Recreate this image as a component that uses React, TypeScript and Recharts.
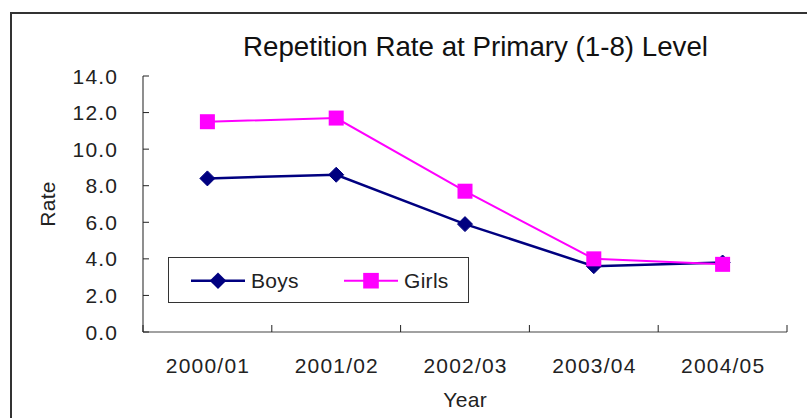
import React from 'react';
import { LineChart, Line, XAxis, YAxis, Legend, Label, Customized } from 'recharts';

const years = ['2000/01', '2001/02', '2002/03', '2003/04', '2004/05'];
const boys = [8.4, 8.6, 5.9, 3.6, 3.8];
const girls = [11.5, 11.7, 7.7, 4.0, 3.7];
const yTicks = [0, 2, 4, 6, 8, 10, 12, 14];
const chartTitle = 'Repetition Rate at Primary (1-8) Level';
const xTitle = 'Year';
const yTitle = 'Rate';

const data = years.map((y, i) => ({ year: y, Boys: boys[i], Girls: girls[i] }));

const FONT = '"Liberation Sans", Arial, sans-serif';
const FS = 21;
const NUM_LS = 1.2;
const WORD_LS = 0.3;
const NAVY = '#000080';
const MAGENTA = '#FF00FF';
const TEXT = '#222';
const AXIS = '#444';
const TICK_GAP = 26;

const diamondPath = (cx: number, cy: number, r: number) =>
  `M${cx},${cy - r}L${cx + r},${cy}L${cx},${cy + r}L${cx - r},${cy}Z`;

const DiamondDot = (props: any) => {
  const { cx, cy, index } = props;
  if (cx == null || cy == null) return <g key={`bd-${index}`} />;
  return <path key={`bd-${index}`} d={diamondPath(cx, cy, 7.5)} fill={NAVY} stroke={NAVY} strokeWidth={1} />;
};

const SquareDot = (props: any) => {
  const { cx, cy, index } = props;
  if (cx == null || cy == null) return <g key={`gd-${index}`} />;
  return <rect key={`gd-${index}`} x={cx - 7.5} y={cy - 7.5} width={15} height={15} fill={MAGENTA} />;
};

const YTick = (props: any) => {
  const { x, y, payload } = props;
  const axisX = x + TICK_GAP;
  return (
    <g>
      <line x1={axisX} x2={axisX + 6} y1={y} y2={y} stroke="#222" strokeWidth={1} />
      <text
        x={x + NUM_LS}
        y={y}
        dy="0.36em"
        textAnchor="end"
        fontFamily={FONT}
        fontSize={FS}
        letterSpacing={NUM_LS}
        fill={TEXT}
      >
        {Number(payload.value).toFixed(1)}
      </text>
    </g>
  );
};

const XTick = (props: any) => {
  const { x, y, payload, index, visibleTicksCount } = props;
  const axisY = y - TICK_GAP;
  const half = typeof payload.offset === 'number' && payload.offset > 0 ? payload.offset : 64.4;
  const count = visibleTicksCount || years.length;
  const marks = [x - half];
  if (index === count - 1) marks.push(x + half);
  return (
    <g>
      {marks.map((mx, i) => (
        <line key={i} x1={mx} x2={mx} y1={axisY} y2={axisY - 7} stroke="#222" strokeWidth={1} />
      ))}
      <text
        x={x + NUM_LS / 2}
        y={y}
        dy="0.72em"
        textAnchor="middle"
        fontFamily={FONT}
        fontSize={FS}
        letterSpacing={NUM_LS}
        fill={TEXT}
      >
        {payload.value}
      </text>
    </g>
  );
};

const LegendContent = (props: any) => {
  const payload = (props.payload || []) as any[];
  return (
    <div
      style={{
        width: 301,
        height: 46,
        border: '1px solid #333',
        boxSizing: 'border-box',
        background: '#fff',
      }}
    >
      <svg width={299} height={44} style={{ display: 'block' }}>
        {payload.map((entry, i) => {
          const ox = i * 153;
          const isBoys = entry.dataKey === 'Boys' || entry.value === 'Boys';
          const color = isBoys ? NAVY : MAGENTA;
          return (
            <g key={i}>
              <line x1={22 + ox} x2={76 + ox} y1={22.7} y2={22.7} stroke={color} strokeWidth={isBoys ? 2.5 : 2} />
              {isBoys ? (
                <path d={diamondPath(49 + ox, 22.7, 8.3)} fill={NAVY} />
              ) : (
                <rect x={202 - 7.8} y={22.7 - 7.8} width={15.6} height={15.6} fill={MAGENTA} />
              )}
              <text
                x={isBoys ? 82 : 235}
                y={30}
                fontFamily={FONT}
                fontSize={FS}
                letterSpacing={WORD_LS}
                fill={TEXT}
              >
                {entry.value}
              </text>
            </g>
          );
        })}
      </svg>
    </div>
  );
};

const Title = () => (
  <text
    x={243}
    y={56}
    textLength={465}
    lengthAdjust="spacingAndGlyphs"
    fontFamily='"Liberation Sans", Arial, sans-serif'
    fontSize={27.5}
    fill="#111"
  >
    {chartTitle}
  </text>
);

export default function App() {
  return (
    <div
      style={{
        position: 'absolute',
        left: 0,
        top: 0,
        width: 807,
        height: 418,
        overflow: 'hidden',
        background: '#fff',
      }}
    >
      <div
        style={{
          position: 'absolute',
          left: 10,
          top: 12,
          width: 820,
          height: 430,
          borderTop: '2px solid #333',
          borderLeft: '2px solid #333',
        }}
      />
      <div style={{ position: 'absolute', left: 0, top: 0 }}>
        <LineChart width={807} height={418} data={data} margin={{ top: 76, right: 20, bottom: 0, left: 0 }}>
          <XAxis
            dataKey="year"
            scale="band"
            height={86}
            axisLine={{ stroke: AXIS, strokeWidth: 1.2 }}
            tickLine={false}
            tickSize={0}
            tickMargin={TICK_GAP}
            interval={0}
            tick={<XTick />}
          >
            <Label
              content={(p: any) => {
                const vb = p.viewBox || { x: 143, y: 332, width: 644, height: 86 };
                return (
                  <text
                    x={vb.x + vb.width / 2 + WORD_LS / 2}
                    y={vb.y + 74.7}
                    textAnchor="middle"
                    fontFamily={FONT}
                    fontSize={FS}
                    letterSpacing={WORD_LS}
                    fill={TEXT}
                  >
                    {xTitle}
                  </text>
                );
              }}
            />
          </XAxis>
          <YAxis
            type="number"
            domain={[0, 14]}
            ticks={yTicks}
            interval={0}
            width={143}
            axisLine={{ stroke: AXIS, strokeWidth: 1.2 }}
            tickLine={false}
            tickSize={0}
            tickMargin={TICK_GAP}
            tick={<YTick />}
          >
            <Label
              content={(p: any) => {
                const vb = p.viewBox || { x: 0, y: 76, width: 143, height: 256 };
                const lx = vb.x + 55;
                const ly = vb.y + vb.height / 2;
                return (
                  <text
                    x={lx}
                    y={ly}
                    transform={`rotate(-90 ${lx} ${ly})`}
                    textAnchor="middle"
                    fontFamily={FONT}
                    fontSize={FS}
                    letterSpacing={WORD_LS}
                    fill={TEXT}
                  >
                    {yTitle}
                  </text>
                );
              }}
            />
          </YAxis>
          <Legend
            layout="horizontal"
            verticalAlign="middle"
            align="center"
            content={<LegendContent />}
            wrapperStyle={{ position: 'absolute', left: 168, top: 257, width: 301, height: 46 }}
          />
          <Line
            type="linear"
            dataKey="Boys"
            stroke={NAVY}
            strokeWidth={2.5}
            dot={DiamondDot}
            activeDot={false}
            isAnimationActive={false}
          />
          <Line
            type="linear"
            dataKey="Girls"
            stroke={MAGENTA}
            strokeWidth={2}
            dot={SquareDot}
            activeDot={false}
            isAnimationActive={false}
          />
          <Customized component={Title} />
        </LineChart>
      </div>
    </div>
  );
}
